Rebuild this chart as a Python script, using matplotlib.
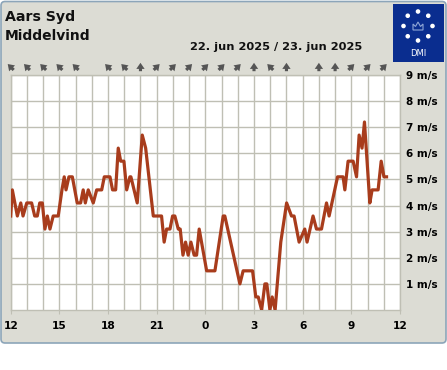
import numpy as np
import matplotlib.pyplot as plt
from matplotlib.patches import FancyBboxPatch, Rectangle, Circle, Polygon, FancyArrowPatch
from matplotlib.transforms import IdentityTransform

plt.rcParams['font.family'] = ['DejaVu Sans']

# hours after 22 jun 12:00, wind speed m/s
hours = [0.00, 0.10, 0.41, 0.62, 0.76, 0.99, 1.29, 1.48, 1.64, 1.79, 1.95, 2.11, 2.26,
         2.42, 2.62, 2.93, 3.16, 3.30, 3.41, 3.59, 3.80, 4.10, 4.31, 4.47, 4.60, 4.78,
         5.09, 5.30, 5.61, 5.77, 6.12, 6.28, 6.47, 6.63, 6.78, 6.98, 7.15, 7.35, 7.41,
         7.80, 8.11, 8.32, 8.79, 9.30, 9.46, 9.61, 9.82, 9.98, 10.12, 10.33, 10.45,
         10.62, 10.78, 10.94, 11.11, 11.31, 11.46, 11.62, 12.08, 12.59, 13.10, 13.20,
         14.13, 14.33, 14.91, 15.11, 15.26, 15.47, 15.67, 15.79, 15.98, 16.12, 16.30,
         16.65, 17.01, 17.31, 17.47, 17.78, 18.13, 18.27, 18.64, 18.85, 19.16, 19.47,
         19.63, 20.15, 20.49, 20.60, 20.80, 21.11, 21.32, 21.48, 21.66, 21.81, 22.14,
         22.28, 22.65, 22.84, 23.01, 23.17]
speed = [3.6, 4.6, 3.6, 4.1, 3.6, 4.1, 4.1, 3.6, 3.6, 4.1, 4.1, 3.1, 3.6,
         3.1, 3.6, 3.6, 4.6, 5.1, 4.6, 5.1, 5.1, 4.1, 4.1, 4.6, 4.1, 4.6,
         4.1, 4.6, 4.6, 5.1, 5.1, 4.6, 4.6, 6.2, 5.7, 5.7, 4.6, 5.1, 5.1,
         4.1, 6.7, 6.2, 3.6, 3.6, 2.6, 3.1, 3.1, 3.6, 3.6, 3.1, 3.1,
         2.1, 2.6, 2.1, 2.6, 2.1, 2.1, 3.1, 1.5, 1.5, 3.6, 3.6,
         1.0, 1.5, 1.5, 0.5, 0.5, 0.0, 1.0, 1.0, 0.0, 0.5, 0.0,
         2.6, 4.1, 3.6, 3.6, 2.6, 3.1, 2.6, 3.6, 3.1, 3.1, 4.1,
         3.6, 5.1, 5.1, 4.6, 5.7, 5.7, 5.1, 6.7, 6.2, 7.2, 4.1,
         4.6, 4.6, 5.7, 5.1, 5.1]

arrow_hours = [0, 1, 2, 3, 4, 6, 7, 8, 9, 10, 11, 12, 13, 14, 15, 16, 17, 19, 20, 21, 22, 23]
arrow_dirs = ['NW', 'NW', 'NW', 'NW', 'NW', 'NW', 'NW', 'N', 'NE', 'NE', 'NE', 'NE', 'NE',
              'NE', 'N', 'NW', 'N', 'N', 'N', 'NE', 'NE', 'NE']

xtick_pos = [0, 3, 6, 9, 12, 15, 18, 21, 24]
xtick_labels = ['12', '15', '18', '21', '0', '3', '6', '9', '12']
ytick_pos = [1, 2, 3, 4, 5, 6, 7, 8, 9]
ytick_labels = ['%d m/s' % v for v in ytick_pos]

W, H = 447, 370
grid_col = '#bfbfb4'
bg = '#dcdcd4'

fig = plt.figure(figsize=(W / 100, H / 100), dpi=100)
fig.patch.set_facecolor('white')

px = IdentityTransform()
panel = FancyBboxPatch((1, H - 343), 445, 341.5, boxstyle='round,pad=0,rounding_size=4',
                       transform=px, facecolor=bg, edgecolor='#8ca5b9', lw=1.2,
                       zorder=-10)
fig.patches.append(panel)

ax = fig.add_axes([10.7 / W, (H - 310) / H, 389.3 / W, 235 / H])
ax.set_facecolor('white')
ax.plot(hours, speed, color='#a83c1c', lw=2.3, solid_joinstyle='round', zorder=3)

ax.set_xlim(0, 24)
ax.set_ylim(0, 9)
ax.set_xticks(np.arange(0, 25, 1), minor=True)
ax.set_xticks(xtick_pos)
ax.set_xticklabels(xtick_labels, fontsize=7.7, fontweight='bold')
ax.set_yticks(ytick_pos)
ax.set_yticklabels(ytick_labels, fontsize=7.5, fontweight='bold')
ax.yaxis.tick_right()
ax.tick_params(axis='y', length=0, pad=4)
ax.tick_params(axis='x', which='major', length=3, pad=5, color=grid_col)
ax.tick_params(axis='x', which='minor', length=0)
ax.grid(True, which='both', axis='x', color=grid_col, lw=1)
ax.grid(True, which='major', axis='y', color=grid_col, lw=1)
ax.set_axisbelow(True)
for s in ax.spines.values():
    s.set_color(grid_col)
    s.set_linewidth(1)

# wind direction arrows (pixel space, x taken from the axis scale)
vec = {'NW': (-0.707, 0.707), 'N': (0.0, 1.0), 'NE': (0.707, 0.707)}
ay = H - 67
L = 4.2
for h, d in zip(arrow_hours, arrow_dirs):
    ax_x = ax.transData.transform((h, 0))[0]
    dx, dy = vec[d]
    arr = FancyArrowPatch((ax_x - dx * L, ay - dy * L), (ax_x + dx * L, ay + dy * L),
                          transform=px, arrowstyle='simple,head_length=0.55,head_width=0.75,tail_width=0.28',
                          mutation_scale=8, color='#555555', lw=0, shrinkA=0, shrinkB=0)
    fig.patches.append(arr)

# titles
fig.text(5 / W, (H - 21) / H, 'Aars Syd', fontsize=10.2, fontweight='bold',
         color='#111111', ha='left', va='baseline')
fig.text(5 / W, (H - 40) / H, 'Middelvind', fontsize=10.0, fontweight='bold',
         color='#111111', ha='left', va='baseline')
fig.text(276 / W, (H - 50) / H, '22. jun 2025 / 23. jun 2025', fontsize=8.2,
         fontweight='bold', color='#111111', ha='center', va='baseline')

# DMI logo
fig.patches.append(Rectangle((393, H - 62), 51, 58, transform=px,
                             facecolor='#0a2d8f', edgecolor='none'))
cx, cy, r = 418, H - 26, 14.5
for k in range(8):
    a = np.pi / 2 - k * np.pi / 4
    fig.patches.append(Circle((cx + r * np.cos(a), cy + r * np.sin(a)), 2.3,
                              transform=px, facecolor='white', edgecolor='none'))
crown = [(cx - 5, cy - 4), (cx + 5, cy - 4), (cx + 5, cy + 2), (cx + 2.5, cy - 0.5),
         (cx, cy + 4), (cx - 2.5, cy - 0.5), (cx - 5, cy + 2)]
fig.patches.append(Polygon(crown, closed=True, transform=px, facecolor='none',
                           edgecolor='#8fa6d6', lw=0.8))
fig.text(cx / W, (H - 54) / H, 'DMI', fontsize=6, color='white', ha='center',
         va='center')

fig.savefig('out.png', dpi=100, facecolor='white')
